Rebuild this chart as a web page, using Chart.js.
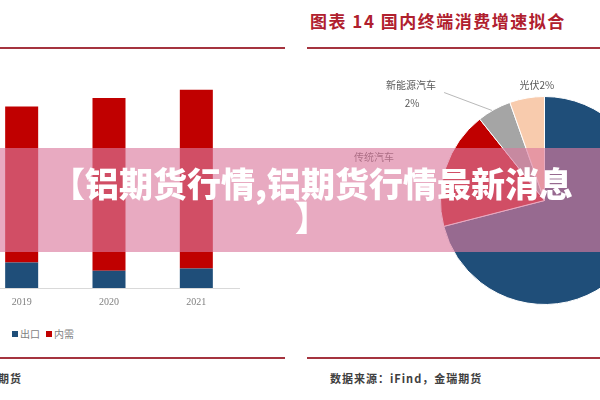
<!DOCTYPE html>
<html>
<head>
<meta charset="utf-8">
<script src="https://cdn.jsdelivr.net/npm/chart.js@4.4.0/dist/chart.umd.min.js"></script>
<style>
  html, body { margin: 0; padding: 0; }
  body { width: 600px; height: 400px; overflow: hidden; position: relative; background: #fff; font-family: "Noto Sans CJK SC", sans-serif; }
  .rule { position: absolute; height: 2px; background: #a5343f; }
  #title { position: absolute; left: 310px; top: 8px; font-size: 17px; font-weight: 700; color: #b0202e; letter-spacing: 1.5px; white-space: nowrap; }
  #bars { position: absolute; left: -22px; top: 39px; }
  #pie { position: absolute; left: 340px; top: 60px; }
  #legend { position: absolute; left: 12px; top: 326px; font-size: 10px; color: #7f7f7f; white-space: nowrap; }
  #legend span { display: inline-block; margin-right: 6px; }
  #legend i { display: inline-block; width: 6px; height: 6px; margin-right: 2px; vertical-align: 1px; }
  .src { position: absolute; top: 370px; font-size: 11px; font-weight: 700; color: #404040; letter-spacing: 1px; white-space: nowrap; }
  #banner { position: absolute; left: 0; top: 148px; width: 600px; height: 104px; background: rgba(219, 122, 158, 0.64); }
  #bannerText { position: absolute; left: 24px; top: 18px; width: 576px; text-align: center; color: #fff; font-size: 34px; font-weight: 900; line-height: 34px; }
</style>
</head>
<body>
  <div id="title">图表 14 国内终端消费增速拟合</div>
  <div class="rule" style="left:0;width:285px;top:47px"></div>
  <div class="rule" style="left:307px;width:293px;top:47px"></div>

  <canvas id="bars" width="262" height="277"></canvas>
  <canvas id="pie" width="409" height="281"></canvas>
  <div id="legend"></div>

  <div class="rule" style="left:0;width:285px;top:357px"></div>
  <div class="rule" style="left:307px;width:293px;top:357px"></div>
  <div class="src" style="right:578px">数据来源：iFind，金瑞期货</div>
  <div class="src" style="left:330px">数据来源：iFind，金瑞期货</div>

  <div id="banner"><div id="bannerText">【铝期货行情,铝期货行情最新消息<br>】</div></div>

<script>
  // bar chart data (万吨)
  const years = ['2019', '2020', '2021']
  const seriesNames = ['出口', '内需']
  const exportVol = [514, 346, 394]
  const domesticVol = [3132, 3468, 3586]
  const barColors = ['#1f4e79', '#c00000']

  // pie chart data (%)
  const pieLabels = ['其他', '传统汽车', '新能源汽车', '光伏']
  const pieValues = [71.0, 18.3, 5.3, 5.4]
  const pieNotes = ['', '传统汽车', '新能源汽车\n2%', '光伏2%']
  const pieColors = ['#1f4e79', '#c00000', '#a5a5a5', '#f8cbad']

  // html legend for the bars
  document.querySelector('#legend').innerHTML = seriesNames
    .map((name, i) => `<span><i style="background:${barColors[i]}"></i>${name}</span>`)
    .join('')

  new Chart(document.querySelector('#bars'), {
    type: 'bar',
    data: {
      labels: years,
      datasets: [
        { label: seriesNames[0], data: exportVol, backgroundColor: barColors[0] },
        { label: seriesNames[1], data: domesticVol, backgroundColor: barColors[1] }
      ]
    },
    options: {
      responsive: false,
      animation: false,
      events: [],
      datasets: { bar: { categoryPercentage: 1, barPercentage: 0.378 } },
      scales: {
        x: {
          stacked: true,
          grid: { display: false, drawTicks: false },
          border: { display: true, color: '#d9d9d9' },
          ticks: { padding: 8, color: '#808080', font: { family: 'Liberation Serif', size: 10 } }
        },
        y: { stacked: true, display: false, min: 0, max: 5000 }
      },
      plugins: { legend: { display: false }, tooltip: { enabled: false } }
    }
  })

  // labels next to the pie slices
  const sliceNotes = {
    id: 'sliceNotes',
    afterDatasetsDraw(chart) {
      const ctx = chart.ctx
      const arcs = chart.getDatasetMeta(0).data
      ctx.save()
      ctx.font = '10px "Noto Sans CJK SC"'
      ctx.fillStyle = '#595959'
      ctx.textAlign = 'center'
      ctx.textBaseline = 'middle'
      arcs.forEach((arc, i) => {
        const note = pieNotes[i]
        if (!note) return
        const mid = (arc.startAngle + arc.endAngle) / 2
        const px = arc.x + Math.cos(mid) * arc.outerRadius
        const py = arc.y + Math.sin(mid) * arc.outerRadius
        const lines = note.split('\n')
        if (lines.length > 1) {
          // leader line
          ctx.strokeStyle = '#a6a6a6'
          ctx.lineWidth = 0.8
          ctx.beginPath()
          ctx.moveTo(px - 2, py + 1)
          ctx.lineTo(px - 50, py - 17)
          ctx.stroke()
          ctx.fillText(lines[0], px - 83, py - 24)
          ctx.fillText(lines[1], px - 82, py - 6)
        } else if (i === 1) {
          ctx.fillText(note, px - 72, py - 10)
        } else {
          ctx.fillText(note, px + 10, py - 13)
        }
      })
      ctx.restore()
    }
  }

  new Chart(document.querySelector('#pie'), {
    type: 'pie',
    data: {
      labels: pieLabels,
      datasets: [{ data: pieValues, backgroundColor: pieColors, borderColor: '#fff', borderWidth: 1, hoverOffset: 0 }]
    },
    options: {
      responsive: false,
      animation: false,
      events: [],
      layout: { padding: 36 },
      plugins: { legend: { display: false }, tooltip: { enabled: false } }
    },
    plugins: [sliceNotes]
  })
</script>
</body>
</html>
